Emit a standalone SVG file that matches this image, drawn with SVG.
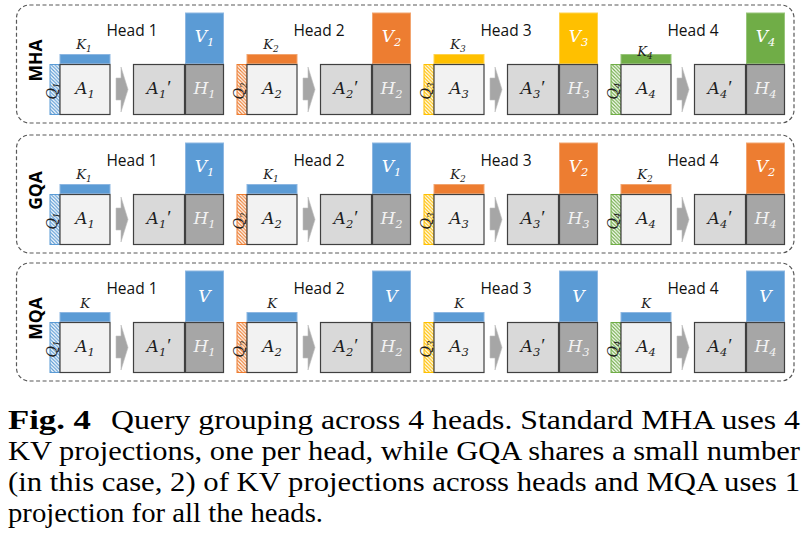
<svg xmlns="http://www.w3.org/2000/svg" xmlns:xlink="http://www.w3.org/1999/xlink" width="808" height="541" viewBox="0 0 808 541">
<defs>
<style>
.bg{fill:#ffffff}
.frame{fill:none;stroke:#595959;stroke-width:1.2;stroke-dasharray:4 2.5}
.a{fill:#f2f2f2;stroke:#404040;stroke-width:1.2}
.ap{fill:#d9d9d9;stroke:#404040;stroke-width:1.2}
.h{fill:#a6a6a6;stroke:#404040;stroke-width:1.2}
.arr{fill:#a6a6a6;stroke:#bfbfbf;stroke-width:0.6}
.blue{fill:#5b9bd5;stroke:#8db7e2;stroke-width:1}
.orange{fill:#ed7d31;stroke:#f2a570;stroke-width:1}
.yellow{fill:#ffc000;stroke:#ffd34d;stroke-width:1}
.green{fill:#70ad47;stroke:#98c57a;stroke-width:1}
.qb{stroke:#5b9bd5;stroke-width:1}
.qo{stroke:#ed7d31;stroke-width:1}
.qy{stroke:#ffc000;stroke-width:1}
.qg{stroke:#70ad47;stroke-width:1}
.head{font-family:"Open Sans","DejaVu Sans",sans-serif;font-size:15.5px;fill:#111111;text-anchor:middle}
.row{font-family:"Open Sans","DejaVu Sans",sans-serif;font-size:17.5px;font-weight:bold;fill:#000000;text-anchor:middle}
.m{font-family:"DejaVu Serif","Liberation Serif",serif;font-style:italic;text-anchor:middle}
.la{font-size:17px;fill:#1e1e1e}
.lh{font-size:17px;fill:#f2f2f2}
.lv{font-size:17px;fill:#ffffff}
.lk{font-size:13px;fill:#1e1e1e}
.lq{font-size:14px;fill:#1e1e1e}
.s{font-size:11.5px}
.sk{font-size:9px}
.pr{font-family:"Liberation Serif",serif;font-style:normal;font-size:19px}
.cap{font-family:"Liberation Serif","Times New Roman",serif;font-size:27.5px;fill:#000000}
.capb{font-weight:bold}
</style>
<pattern id="hb" patternUnits="userSpaceOnUse" width="3.5" height="3.5"><rect width="3.5" height="3.5" fill="#ffffff"/><path d="M-1,-1 L4.5,4.5 M-1,2.5 L1,4.5 M2.5,-1 L4.5,1" stroke="#5b9bd5" stroke-width="1.2"/></pattern>
<pattern id="ho" patternUnits="userSpaceOnUse" width="3.5" height="3.5"><rect width="3.5" height="3.5" fill="#ffffff"/><path d="M-1,-1 L4.5,4.5 M-1,2.5 L1,4.5 M2.5,-1 L4.5,1" stroke="#ed7d31" stroke-width="1.2"/></pattern>
<pattern id="hy" patternUnits="userSpaceOnUse" width="3.5" height="3.5"><rect width="3.5" height="3.5" fill="#ffffff"/><path d="M-1,-1 L4.5,4.5 M-1,2.5 L1,4.5 M2.5,-1 L4.5,1" stroke="#ffc000" stroke-width="1.2"/></pattern>
<pattern id="hg" patternUnits="userSpaceOnUse" width="3.5" height="3.5"><rect width="3.5" height="3.5" fill="#ffffff"/><path d="M-1,-1 L4.5,4.5 M-1,2.5 L1,4.5 M2.5,-1 L4.5,1" stroke="#70ad47" stroke-width="1.2"/></pattern>
<path id="arw" class="arr" d="M56,78 H61 V67 L68,89.5 L61,112 V100 H56 Z"/>
</defs>
<rect class="bg" x="0" y="0" width="808" height="541"/>

<!-- frames -->
<g id="frames">
<rect id="frame-mha" class="frame" x="16.5" y="5" width="777.5" height="118" rx="13"/>
<rect id="frame-gqa" class="frame" x="16.5" y="135" width="777.5" height="118" rx="13"/>
<rect id="frame-mqa" class="frame" x="16.5" y="263" width="777.5" height="118" rx="13"/>
<text class="row" transform="translate(41.5,60.5) rotate(-90)">MHA</text>
<text class="row" transform="translate(41.5,190.5) rotate(-90)">GQA</text>
<text class="row" transform="translate(41.5,318.5) rotate(-90)">MQA</text>
</g>

<!-- ===== MHA ===== -->
<g id="mha-h1" transform="translate(60,0)">
<text class="head" x="72" y="36">Head 1</text>
<g id="mha-h1-v"><rect class="blue" x="125.5" y="13" width="38" height="50.5"/><text class="m lv" x="144.5" y="42">V<tspan class="s" dy="4">1</tspan></text></g>
<g id="mha-h1-k"><rect class="blue" x="0" y="54.5" width="50" height="9"/><text class="m lk" x="24" y="49">K<tspan class="sk" dy="3">1</tspan></text></g>
<g id="mha-h1-q"><rect class="qb" fill="url(#hb)" x="-10" y="64.5" width="10" height="50"/><text class="m lq" transform="translate(-3.5,91) rotate(-90)">Q<tspan class="sk" dy="3">1</tspan></text></g>
<g id="mha-h1-a"><rect class="a" x="0" y="64.5" width="50" height="50"/><text class="m la" x="25" y="94">A<tspan class="s" dy="4">1</tspan></text></g>
<g id="mha-h1-ap"><rect class="ap" x="73.5" y="64.5" width="51" height="50"/><text class="m la" x="99" y="94">A<tspan class="s" dy="4">1</tspan><tspan class="pr" dy="-4" dx="1">′</tspan></text></g>
<g id="mha-h1-h"><rect class="h" x="125.5" y="64.5" width="38" height="50"/><text class="m lh" x="144.5" y="94">H<tspan class="s" dy="4">1</tspan></text></g>
</g>
<g id="mha-h2" transform="translate(247,0)">
<text class="head" x="72" y="36">Head 2</text>
<g id="mha-h2-v"><rect class="orange" x="125.5" y="13" width="38" height="50.5"/><text class="m lv" x="144.5" y="42">V<tspan class="s" dy="4">2</tspan></text></g>
<g id="mha-h2-k"><rect class="orange" x="0" y="54.5" width="50" height="9"/><text class="m lk" x="24" y="49">K<tspan class="sk" dy="3">2</tspan></text></g>
<g id="mha-h2-q"><rect class="qo" fill="url(#ho)" x="-10" y="64.5" width="10" height="50"/><text class="m lq" transform="translate(-3.5,91) rotate(-90)">Q<tspan class="sk" dy="3">2</tspan></text></g>
<g id="mha-h2-a"><rect class="a" x="0" y="64.5" width="50" height="50"/><text class="m la" x="25" y="94">A<tspan class="s" dy="4">2</tspan></text></g>
<g id="mha-h2-ap"><rect class="ap" x="73.5" y="64.5" width="51" height="50"/><text class="m la" x="99" y="94">A<tspan class="s" dy="4">2</tspan><tspan class="pr" dy="-4" dx="1">′</tspan></text></g>
<g id="mha-h2-h"><rect class="h" x="125.5" y="64.5" width="38" height="50"/><text class="m lh" x="144.5" y="94">H<tspan class="s" dy="4">2</tspan></text></g>
</g>
<g id="mha-h3" transform="translate(434,0)">
<text class="head" x="72" y="36">Head 3</text>
<g id="mha-h3-v"><rect class="yellow" x="125.5" y="13" width="38" height="50.5"/><text class="m lv" x="144.5" y="42">V<tspan class="s" dy="4">3</tspan></text></g>
<g id="mha-h3-k"><rect class="yellow" x="0" y="54.5" width="50" height="9"/><text class="m lk" x="24" y="49">K<tspan class="sk" dy="3">3</tspan></text></g>
<g id="mha-h3-q"><rect class="qy" fill="url(#hy)" x="-10" y="64.5" width="10" height="50"/><text class="m lq" transform="translate(-3.5,91) rotate(-90)">Q<tspan class="sk" dy="3">3</tspan></text></g>
<g id="mha-h3-a"><rect class="a" x="0" y="64.5" width="50" height="50"/><text class="m la" x="25" y="94">A<tspan class="s" dy="4">3</tspan></text></g>
<g id="mha-h3-ap"><rect class="ap" x="73.5" y="64.5" width="51" height="50"/><text class="m la" x="99" y="94">A<tspan class="s" dy="4">3</tspan><tspan class="pr" dy="-4" dx="1">′</tspan></text></g>
<g id="mha-h3-h"><rect class="h" x="125.5" y="64.5" width="38" height="50"/><text class="m lh" x="144.5" y="94">H<tspan class="s" dy="4">3</tspan></text></g>
</g>
<g id="mha-h4" transform="translate(621,0)">
<text class="head" x="72" y="36">Head 4</text>
<g id="mha-h4-v"><rect class="green" x="125.5" y="13" width="38" height="50.5"/><text class="m lv" x="144.5" y="42">V<tspan class="s" dy="4">4</tspan></text></g>
<g id="mha-h4-k"><rect class="green" x="0" y="54.5" width="50" height="9"/><text class="m lk" x="24" y="56">K<tspan class="sk" dy="3">4</tspan></text></g>
<g id="mha-h4-q"><rect class="qg" fill="url(#hg)" x="-10" y="64.5" width="10" height="50"/><text class="m lq" transform="translate(-3.5,91) rotate(-90)">Q<tspan class="sk" dy="3">4</tspan></text></g>
<g id="mha-h4-a"><rect class="a" x="0" y="64.5" width="50" height="50"/><text class="m la" x="25" y="94">A<tspan class="s" dy="4">4</tspan></text></g>
<g id="mha-h4-ap"><rect class="ap" x="73.5" y="64.5" width="51" height="50"/><text class="m la" x="99" y="94">A<tspan class="s" dy="4">4</tspan><tspan class="pr" dy="-4" dx="1">′</tspan></text></g>
<g id="mha-h4-h"><rect class="h" x="125.5" y="64.5" width="38" height="50"/><text class="m lh" x="144.5" y="94">H<tspan class="s" dy="4">4</tspan></text></g>
</g>

<!-- ===== GQA ===== -->
<g id="gqa-h1" transform="translate(60,130)">
<text class="head" x="72" y="36">Head 1</text>
<g id="gqa-h1-v"><rect class="blue" x="125.5" y="13" width="38" height="50.5"/><text class="m lv" x="144.5" y="42">V<tspan class="s" dy="4">1</tspan></text></g>
<g id="gqa-h1-k"><rect class="blue" x="0" y="54.5" width="50" height="9"/><text class="m lk" x="24" y="49">K<tspan class="sk" dy="3">1</tspan></text></g>
<g id="gqa-h1-q"><rect class="qb" fill="url(#hb)" x="-10" y="64.5" width="10" height="50"/><text class="m lq" transform="translate(-3.5,91) rotate(-90)">Q<tspan class="sk" dy="3">1</tspan></text></g>
<g id="gqa-h1-a"><rect class="a" x="0" y="64.5" width="50" height="50"/><text class="m la" x="25" y="94">A<tspan class="s" dy="4">1</tspan></text></g>
<g id="gqa-h1-ap"><rect class="ap" x="73.5" y="64.5" width="51" height="50"/><text class="m la" x="99" y="94">A<tspan class="s" dy="4">1</tspan><tspan class="pr" dy="-4" dx="1">′</tspan></text></g>
<g id="gqa-h1-h"><rect class="h" x="125.5" y="64.5" width="38" height="50"/><text class="m lh" x="144.5" y="94">H<tspan class="s" dy="4">1</tspan></text></g>
</g>
<g id="gqa-h2" transform="translate(247,130)">
<text class="head" x="72" y="36">Head 2</text>
<g id="gqa-h2-v"><rect class="blue" x="125.5" y="13" width="38" height="50.5"/><text class="m lv" x="144.5" y="42">V<tspan class="s" dy="4">1</tspan></text></g>
<g id="gqa-h2-k"><rect class="blue" x="0" y="54.5" width="50" height="9"/><text class="m lk" x="24" y="49">K<tspan class="sk" dy="3">1</tspan></text></g>
<g id="gqa-h2-q"><rect class="qo" fill="url(#ho)" x="-10" y="64.5" width="10" height="50"/><text class="m lq" transform="translate(-3.5,91) rotate(-90)">Q<tspan class="sk" dy="3">2</tspan></text></g>
<g id="gqa-h2-a"><rect class="a" x="0" y="64.5" width="50" height="50"/><text class="m la" x="25" y="94">A<tspan class="s" dy="4">2</tspan></text></g>
<g id="gqa-h2-ap"><rect class="ap" x="73.5" y="64.5" width="51" height="50"/><text class="m la" x="99" y="94">A<tspan class="s" dy="4">2</tspan><tspan class="pr" dy="-4" dx="1">′</tspan></text></g>
<g id="gqa-h2-h"><rect class="h" x="125.5" y="64.5" width="38" height="50"/><text class="m lh" x="144.5" y="94">H<tspan class="s" dy="4">2</tspan></text></g>
</g>
<g id="gqa-h3" transform="translate(434,130)">
<text class="head" x="72" y="36">Head 3</text>
<g id="gqa-h3-v"><rect class="orange" x="125.5" y="13" width="38" height="50.5"/><text class="m lv" x="144.5" y="42">V<tspan class="s" dy="4">2</tspan></text></g>
<g id="gqa-h3-k"><rect class="orange" x="0" y="54.5" width="50" height="9"/><text class="m lk" x="24" y="49">K<tspan class="sk" dy="3">2</tspan></text></g>
<g id="gqa-h3-q"><rect class="qy" fill="url(#hy)" x="-10" y="64.5" width="10" height="50"/><text class="m lq" transform="translate(-3.5,91) rotate(-90)">Q<tspan class="sk" dy="3">3</tspan></text></g>
<g id="gqa-h3-a"><rect class="a" x="0" y="64.5" width="50" height="50"/><text class="m la" x="25" y="94">A<tspan class="s" dy="4">3</tspan></text></g>
<g id="gqa-h3-ap"><rect class="ap" x="73.5" y="64.5" width="51" height="50"/><text class="m la" x="99" y="94">A<tspan class="s" dy="4">3</tspan><tspan class="pr" dy="-4" dx="1">′</tspan></text></g>
<g id="gqa-h3-h"><rect class="h" x="125.5" y="64.5" width="38" height="50"/><text class="m lh" x="144.5" y="94">H<tspan class="s" dy="4">3</tspan></text></g>
</g>
<g id="gqa-h4" transform="translate(621,130)">
<text class="head" x="72" y="36">Head 4</text>
<g id="gqa-h4-v"><rect class="orange" x="125.5" y="13" width="38" height="50.5"/><text class="m lv" x="144.5" y="42">V<tspan class="s" dy="4">2</tspan></text></g>
<g id="gqa-h4-k"><rect class="orange" x="0" y="54.5" width="50" height="9"/><text class="m lk" x="24" y="49">K<tspan class="sk" dy="3">2</tspan></text></g>
<g id="gqa-h4-q"><rect class="qg" fill="url(#hg)" x="-10" y="64.5" width="10" height="50"/><text class="m lq" transform="translate(-3.5,91) rotate(-90)">Q<tspan class="sk" dy="3">4</tspan></text></g>
<g id="gqa-h4-a"><rect class="a" x="0" y="64.5" width="50" height="50"/><text class="m la" x="25" y="94">A<tspan class="s" dy="4">4</tspan></text></g>
<g id="gqa-h4-ap"><rect class="ap" x="73.5" y="64.5" width="51" height="50"/><text class="m la" x="99" y="94">A<tspan class="s" dy="4">4</tspan><tspan class="pr" dy="-4" dx="1">′</tspan></text></g>
<g id="gqa-h4-h"><rect class="h" x="125.5" y="64.5" width="38" height="50"/><text class="m lh" x="144.5" y="94">H<tspan class="s" dy="4">4</tspan></text></g>
</g>

<!-- ===== MQA ===== -->
<g id="mqa-h1" transform="translate(60,258)">
<text class="head" x="72" y="36">Head 1</text>
<g id="mqa-h1-v"><rect class="blue" x="125.5" y="13" width="38" height="50.5"/><text class="m lv" x="144.5" y="44">V</text></g>
<g id="mqa-h1-k"><rect class="blue" x="0" y="54.5" width="50" height="9"/><text class="m lk" x="25" y="50">K</text></g>
<g id="mqa-h1-q"><rect class="qb" fill="url(#hb)" x="-10" y="64.5" width="10" height="50"/><text class="m lq" transform="translate(-3.5,91) rotate(-90)">Q<tspan class="sk" dy="3">1</tspan></text></g>
<g id="mqa-h1-a"><rect class="a" x="0" y="64.5" width="50" height="50"/><text class="m la" x="25" y="94">A<tspan class="s" dy="4">1</tspan></text></g>
<g id="mqa-h1-ap"><rect class="ap" x="73.5" y="64.5" width="51" height="50"/><text class="m la" x="99" y="94">A<tspan class="s" dy="4">1</tspan><tspan class="pr" dy="-4" dx="1">′</tspan></text></g>
<g id="mqa-h1-h"><rect class="h" x="125.5" y="64.5" width="38" height="50"/><text class="m lh" x="144.5" y="94">H<tspan class="s" dy="4">1</tspan></text></g>
</g>
<g id="mqa-h2" transform="translate(247,258)">
<text class="head" x="72" y="36">Head 2</text>
<g id="mqa-h2-v"><rect class="blue" x="125.5" y="13" width="38" height="50.5"/><text class="m lv" x="144.5" y="44">V</text></g>
<g id="mqa-h2-k"><rect class="blue" x="0" y="54.5" width="50" height="9"/><text class="m lk" x="25" y="50">K</text></g>
<g id="mqa-h2-q"><rect class="qo" fill="url(#ho)" x="-10" y="64.5" width="10" height="50"/><text class="m lq" transform="translate(-3.5,91) rotate(-90)">Q<tspan class="sk" dy="3">2</tspan></text></g>
<g id="mqa-h2-a"><rect class="a" x="0" y="64.5" width="50" height="50"/><text class="m la" x="25" y="94">A<tspan class="s" dy="4">2</tspan></text></g>
<g id="mqa-h2-ap"><rect class="ap" x="73.5" y="64.5" width="51" height="50"/><text class="m la" x="99" y="94">A<tspan class="s" dy="4">2</tspan><tspan class="pr" dy="-4" dx="1">′</tspan></text></g>
<g id="mqa-h2-h"><rect class="h" x="125.5" y="64.5" width="38" height="50"/><text class="m lh" x="144.5" y="94">H<tspan class="s" dy="4">2</tspan></text></g>
</g>
<g id="mqa-h3" transform="translate(434,258)">
<text class="head" x="72" y="36">Head 3</text>
<g id="mqa-h3-v"><rect class="blue" x="125.5" y="13" width="38" height="50.5"/><text class="m lv" x="144.5" y="44">V</text></g>
<g id="mqa-h3-k"><rect class="blue" x="0" y="54.5" width="50" height="9"/><text class="m lk" x="25" y="50">K</text></g>
<g id="mqa-h3-q"><rect class="qy" fill="url(#hy)" x="-10" y="64.5" width="10" height="50"/><text class="m lq" transform="translate(-3.5,91) rotate(-90)">Q<tspan class="sk" dy="3">3</tspan></text></g>
<g id="mqa-h3-a"><rect class="a" x="0" y="64.5" width="50" height="50"/><text class="m la" x="25" y="94">A<tspan class="s" dy="4">3</tspan></text></g>
<g id="mqa-h3-ap"><rect class="ap" x="73.5" y="64.5" width="51" height="50"/><text class="m la" x="99" y="94">A<tspan class="s" dy="4">3</tspan><tspan class="pr" dy="-4" dx="1">′</tspan></text></g>
<g id="mqa-h3-h"><rect class="h" x="125.5" y="64.5" width="38" height="50"/><text class="m lh" x="144.5" y="94">H<tspan class="s" dy="4">3</tspan></text></g>
</g>
<g id="mqa-h4" transform="translate(621,258)">
<text class="head" x="72" y="36">Head 4</text>
<g id="mqa-h4-v"><rect class="blue" x="125.5" y="13" width="38" height="50.5"/><text class="m lv" x="144.5" y="44">V</text></g>
<g id="mqa-h4-k"><rect class="blue" x="0" y="54.5" width="50" height="9"/><text class="m lk" x="25" y="50">K</text></g>
<g id="mqa-h4-q"><rect class="qg" fill="url(#hg)" x="-10" y="64.5" width="10" height="50"/><text class="m lq" transform="translate(-3.5,91) rotate(-90)">Q<tspan class="sk" dy="3">4</tspan></text></g>
<g id="mqa-h4-a"><rect class="a" x="0" y="64.5" width="50" height="50"/><text class="m la" x="25" y="94">A<tspan class="s" dy="4">4</tspan></text></g>
<g id="mqa-h4-ap"><rect class="ap" x="73.5" y="64.5" width="51" height="50"/><text class="m la" x="99" y="94">A<tspan class="s" dy="4">4</tspan><tspan class="pr" dy="-4" dx="1">′</tspan></text></g>
<g id="mqa-h4-h"><rect class="h" x="125.5" y="64.5" width="38" height="50"/><text class="m lh" x="144.5" y="94">H<tspan class="s" dy="4">4</tspan></text></g>
</g>

<!-- connectors: block arrows A -> A' -->
<g id="connectors">
<use href="#arw" transform="translate(60,0)"/>
<use href="#arw" transform="translate(247,0)"/>
<use href="#arw" transform="translate(434,0)"/>
<use href="#arw" transform="translate(621,0)"/>
<use href="#arw" transform="translate(60,130)"/>
<use href="#arw" transform="translate(247,130)"/>
<use href="#arw" transform="translate(434,130)"/>
<use href="#arw" transform="translate(621,130)"/>
<use href="#arw" transform="translate(60,258)"/>
<use href="#arw" transform="translate(247,258)"/>
<use href="#arw" transform="translate(434,258)"/>
<use href="#arw" transform="translate(621,258)"/>
</g>

<!-- caption -->
<g id="caption">
<text class="cap capb" x="8" y="429" textLength="83" lengthAdjust="spacingAndGlyphs">Fig. 4</text>
<text class="cap" x="111" y="429" textLength="689" lengthAdjust="spacingAndGlyphs">Query grouping across 4 heads. Standard MHA uses 4</text>
<text class="cap" x="8" y="460" textLength="792" lengthAdjust="spacingAndGlyphs">KV projections, one per head, while GQA shares a small number</text>
<text class="cap" x="8" y="491" textLength="792" lengthAdjust="spacingAndGlyphs">(in this case, 2) of KV projections across heads and MQA uses 1</text>
<text class="cap" x="8" y="522" textLength="315" lengthAdjust="spacingAndGlyphs">projection for all the heads.</text>
</g>
</svg>
